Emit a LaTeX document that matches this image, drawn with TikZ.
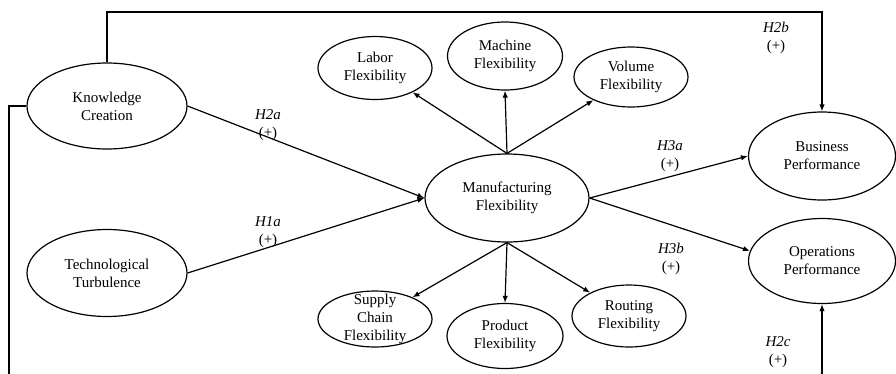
\documentclass[tikz,border=0pt]{standalone}
\usepackage{fontspec}
\setmainfont{Liberation Serif}
\usetikzlibrary{shapes.geometric,arrows.meta}
\begin{document}
\begin{tikzpicture}[x=1pt,y=-1pt,
  ell/.style={draw, ellipse, inner sep=0pt, align=center, line width=1.2pt,
    font=\fontsize{15}{18}\selectfont},
  arr/.style={-{Latex[length=7pt,width=5.5pt]}, line width=1.2pt},
  ln/.style={line width=1.2pt},
  hyp/.style={align=center, inner sep=0pt, font=\fontsize{15}{18}\selectfont}]
\useasboundingbox (0,0) rectangle (896,373);
% nodes
\node[ell, minimum width=160, minimum height=86] (kc) at (107,106) {Knowledge\\Creation};
\node[ell, minimum width=160, minimum height=87] (tt) at (107,273) {Technological\\Turbulence};
\node[ell, minimum width=164, minimum height=88] (mf) at (507,198) {Manufacturing\\Flexibility};
\node[ell, minimum width=114, minimum height=63] (lf) at (375,68) {Labor\\Flexibility};
\node[ell, minimum width=115, minimum height=68] (mc) at (505,56) {Machine\\Flexibility};
\node[ell, minimum width=114, minimum height=60] (vf) at (631,77) {Volume\\Flexibility};
\node[ell, minimum width=114, minimum height=56,
  label={[hyp]center:{Supply\\Chain\\Flexibility}}] (sc) at (375,319) {};
\node[ell, minimum width=116, minimum height=65] (pf) at (505,336) {Product\\Flexibility};
\node[ell, minimum width=114, minimum height=62] (rf) at (629,316) {Routing\\Flexibility};
\node[ell, minimum width=147, minimum height=88] (bp) at (822,156) {Business\\Performance};
\node[ell, minimum width=147, minimum height=85] (op) at (822,261) {Operations\\Performance};
% hypothesis labels
\node[hyp] (h2a) at (268,125) {\textit{H2a}\\(+)};
\node[hyp] (h1a) at (268,232) {\textit{H1a}\\(+)};
\node[hyp] (h3a) at (670,156) {\textit{H3a}\\(+)};
\node[hyp] (h3b) at (671,259) {\textit{H3b}\\(+)};
\node[hyp] (h2b) at (776,38) {\textit{H2b}\\(+)};
\node[hyp] (h2c) at (778,352) {\textit{H2c}\\(+)};
% routing coordinates
\coordinate (topy) at (0,12);
\coordinate (boty) at (0,390);
\coordinate (leftx) at (9,0);
% connectors
\draw[arr] (kc.north) -- (kc.north |- topy) -- (bp.north |- topy) -- (bp.north);
\draw[arr] (kc.west) -- (kc.west -| leftx) -- (leftx |- boty) -- (op.south |- boty) -- (op.south);
\draw[arr] (kc.east) -- (mf.west);
\draw[arr] (tt.east) -- (mf.west);
\draw[arr] (mf.north) -- (lf);
\draw[arr] (mf.north) -- (mc.south);
\draw[arr] (mf.north) -- (vf);
\draw[arr] (mf.south) -- (sc);
\draw[arr] (mf.south) -- (pf.north);
\draw[arr] (mf.south) -- (rf);
\draw[arr] (mf.east) -- (bp.west);
\draw[arr] (mf.east) -- (op.172);
\end{tikzpicture}
\end{document}
